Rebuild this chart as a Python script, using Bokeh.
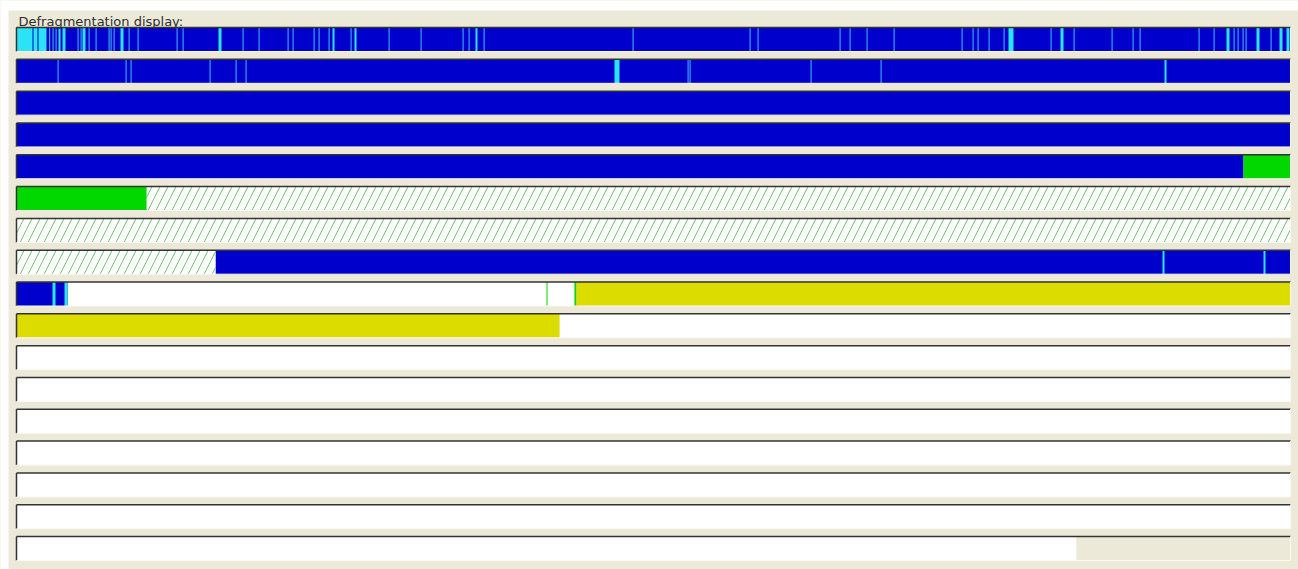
from bokeh.plotting import figure
from bokeh.models import Range1d, Label, ColumnDataSource, BoxAnnotation
from bokeh.embed import file_html
from bokeh.resources import INLINE

# ---------------- data (disk blocks per row, 17 rows of 1274 blocks) ----------------
ROW_COUNT = 17
STRIP_LEN = 1274

# free space (white)
free_row = [8, 9, 10, 11, 12, 13, 14, 15, 16]
free_start = [51, 543, 0, 0, 0, 0, 0, 0, 0]
free_end = [558, 1274, 1274, 1274, 1274, 1274, 1274, 1274, 1060]

# contiguous files (blue)
cont_row = [0, 1, 2, 3, 4, 7, 8]
cont_start = [0, 0, 0, 0, 0, 199, 0]
cont_end = [1274, 1274, 1274, 1274, 1227, 1274, 51]

# reserved zone (hatched)
resv_row = [5, 6, 7]
resv_start = [130, 0, 0]
resv_end = [1274, 1274, 199]

# system files (green)
sys_row = [4, 5, 8, 8]
sys_start = [1227, 0, 530, 558]
sys_end = [1274, 130, 531, 560]

# directories (yellow)
dir_row = [8, 9]
dir_start = [560, 0]
dir_end = [1274, 543]

# fragmented files (cyan blocks)
frag_row = [0, 0, 0, 0, 0, 0, 0, 0, 0, 0, 0, 0, 0, 0, 0, 0, 0,
            1, 1, 7, 7, 8, 8]
frag_start = [0, 17, 22, 42, 46, 66, 104, 202, 316, 338, 459, 992, 1044, 1210, 1240, 1263, 1270,
              598, 1148, 1146, 1247, 36, 48]
frag_end = [16, 21, 30, 44, 49, 69, 107, 205, 318, 340, 461, 997, 1047, 1213, 1243, 1266, 1273,
            603, 1150, 1148, 1249, 39, 51]

# small fragments (thin lines): row, block position
thin_row = [0] * 51 + [1] * 10
thin_pos = [32.5, 36, 39, 61, 64, 72, 79, 92, 94, 97, 112, 121, 160, 166, 226, 242, 271,
            276, 297, 302, 312, 334, 372, 404, 446, 452, 467, 616, 733, 741, 823, 833,
            850, 877, 945, 956, 961, 972, 987, 1034, 1057, 1095, 1116, 1123, 1182, 1197,
            1217, 1221, 1226, 1229, 1254,
            41, 109, 114, 193, 219, 229, 671, 673, 794, 864]

# unused tail (beige)
unused_row = [16]
unused_start = [1060]
unused_end = [1274]

# ---------------- styling / layout ----------------
BG = "#ECE9D8"
BLUE = "#0000CC"
CYAN = "#2CE3F6"
THIN = "#3A9EF0"
GREEN = "#00D800"
YELLOW = "#DCDC00"
WHITE = "#FFFFFF"

W, H = 1298, 569
STRIP_X = 16          # pixel where the strips start
PANEL_L, PANEL_T = 8, 10
ROW_PITCH = 31.8125
ROW0_CENTER = 39.0
HALF = 12.0 / ROW_PITCH
x0, x1 = -STRIP_X, W - STRIP_X
y_start = (H - ROW0_CENTER) / ROW_PITCH
y_end = -ROW0_CENTER / ROW_PITCH

p = figure(width=W, height=H, output_backend="svg", toolbar_location=None,
           x_axis_type=None, y_axis_type=None,
           x_range=Range1d(x0, x1), y_range=Range1d(y_start, y_end),
           min_border=0, background_fill_color=BG, border_fill_color=BG,
           outline_line_color=None)
p.grid.visible = False

# white page outside the panel (top and left), fully bounded boxes
p.add_layout(BoxAnnotation(left=x0, right=x1, top=y_end,
                           bottom=y_end + PANEL_T / ROW_PITCH, fill_color=WHITE,
                           fill_alpha=1, line_color=None, level="underlay"))
p.add_layout(BoxAnnotation(left=x0, right=x0 + PANEL_L, top=y_end, bottom=y_start,
                           fill_color=WHITE, fill_alpha=1, line_color=None,
                           level="underlay"))


def src(rows, starts, ends):
    return ColumnDataSource(dict(
        left=starts, right=ends,
        top=[r - HALF for r in rows], bottom=[r + HALF for r in rows]))


p.quad(source=src(free_row, free_start, free_end), left="left", right="right",
       top="top", bottom="bottom", fill_color=WHITE, line_color=None)
p.quad(source=src(cont_row, cont_start, cont_end), left="left", right="right",
       top="top", bottom="bottom", fill_color=BLUE, line_color=None)
p.quad(source=src(resv_row, resv_start, resv_end), left="left", right="right",
       top="top", bottom="bottom", fill_color=WHITE, line_color=None,
       hatch_pattern="/", hatch_color="#5CC05C", hatch_alpha=0.9,
       hatch_scale=16, hatch_weight=1)
p.quad(source=src(sys_row, sys_start, sys_end), left="left", right="right",
       top="top", bottom="bottom", fill_color=GREEN, line_color=None)
p.quad(source=src(dir_row, dir_start, dir_end), left="left", right="right",
       top="top", bottom="bottom", fill_color=YELLOW, line_color=None)
p.quad(source=src(frag_row, frag_start, frag_end), left="left", right="right",
       top="top", bottom="bottom", fill_color=CYAN, line_color=None)
p.quad(source=src(thin_row, thin_pos, [t + 1.2 for t in thin_pos]), left="left",
       right="right", top="top", bottom="bottom", fill_color=THIN, line_color=None)
p.quad(source=src(unused_row, unused_start, unused_end), left="left", right="right",
       top="top", bottom="bottom", fill_color=BG, line_color=None)

# sunken borders of each row
rows = list(range(ROW_COUNT))
tops = [r - HALF for r in rows]
bots = [r + HALF for r in rows]
p.segment(x0=[0] * ROW_COUNT, x1=[STRIP_LEN] * ROW_COUNT, y0=tops, y1=tops,
          line_color="#333333", line_width=1.5)
p.segment(x0=[0] * ROW_COUNT, x1=[0] * ROW_COUNT, y0=tops, y1=bots,
          line_color="#333333", line_width=1.5)
p.segment(x0=[0] * ROW_COUNT, x1=[STRIP_LEN] * ROW_COUNT, y0=bots, y1=bots,
          line_color="#FAF9F4", line_width=1)
p.segment(x0=[STRIP_LEN] * ROW_COUNT, x1=[STRIP_LEN] * ROW_COUNT, y0=tops, y1=bots,
          line_color="#FAF9F4", line_width=1)

p.add_layout(Label(x=x0 + 18, y=y_end + 21 / ROW_PITCH,
                   text="Defragmentation display:", text_font="DejaVu Sans",
                   text_font_size="13px", text_color="#2E2E2E",
                   text_baseline="alphabetic"))

open("out.html", "w").write(file_html(p, INLINE))
